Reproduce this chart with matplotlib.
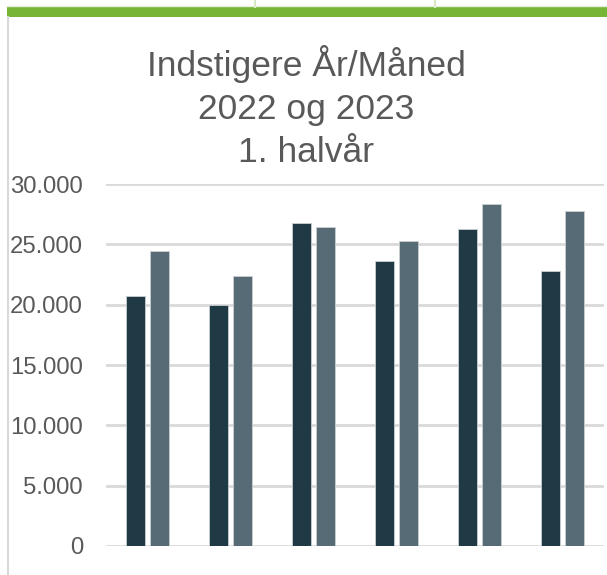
import matplotlib.pyplot as plt
import numpy as np

# data
maaneder = ["Jan", "Feb", "Mar", "Apr", "Maj", "Jun"]
aar_2022 = [20690, 19980, 26740, 23590, 26240, 22790]
aar_2023 = [24440, 22370, 26430, 25250, 28350, 27740]
yticks = [0, 5000, 10000, 15000, 20000, 25000, 30000]
ytick_labels = ["0", "5.000", "10.000", "15.000", "20.000", "25.000", "30.000"]
titel = ["Indstigere År/Måned", "2022 og 2023", "1. halvår"]

plt.rcParams['font.family'] = ['Liberation Sans', 'DejaVu Sans']

W, H = 607, 575
fig = plt.figure(figsize=(W / 100, H / 100), dpi=100)

# dekoration i toppen (grøn bjælke og venstre kant)
fig.add_artist(plt.Rectangle((7 / W, 1 - 17 / H), 1, 10 / H, transform=fig.transFigure,
                             color="#76b535", lw=0))
fig.add_artist(plt.Line2D([7.5 / W, 7.5 / W], [0, 1 - 17 / H], transform=fig.transFigure,
                          color="#d9d9d9", lw=1.5))
for xv in [255, 435]:
    fig.add_artist(plt.Line2D([xv / W, xv / W], [1 - 7 / H, 1], transform=fig.transFigure,
                              color="#d6e8c4", lw=1.5))
fig.add_artist(plt.Line2D([7 / W, 1], [1 - 6 / H, 1 - 6 / H], transform=fig.transFigure,
                          color="#e3efd8", lw=1))

ax = fig.add_axes([106 / W, (H - 546) / H, (604 - 106) / W, (546 - 184) / H])

x = np.arange(len(maaneder))
bredde = 0.229
afstand = 0.055
ax.bar(x - (bredde + afstand) / 2, aar_2022, bredde, color="#1f3a45",
       edgecolor="#c9d0d4", linewidth=0.6, zorder=3)
ax.bar(x + (bredde + afstand) / 2, aar_2023, bredde, color="#566b76",
       edgecolor="#c9d0d4", linewidth=0.6, zorder=3)

ax.set_xlim(-0.5, len(maaneder) - 0.5)
ax.set_ylim(0, 30000)
ax.set_yticks(yticks)
ax.set_yticklabels(ytick_labels)
ax.set_xticks([])
ax.tick_params(axis='y', length=0, pad=16.5, labelsize=17.2, labelcolor="#595959")
ax.grid(axis='y', color="#d9d9d9", linewidth=2, zorder=0)
for s in ax.spines.values():
    s.set_visible(False)

for i, linje in enumerate(titel):
    fig.text(306 / W, 1 - (76 + 43 * i) / H, linje, ha='center', va='baseline',
             fontsize=25.5, color="#595959")

fig.savefig("out.png", dpi=100)
